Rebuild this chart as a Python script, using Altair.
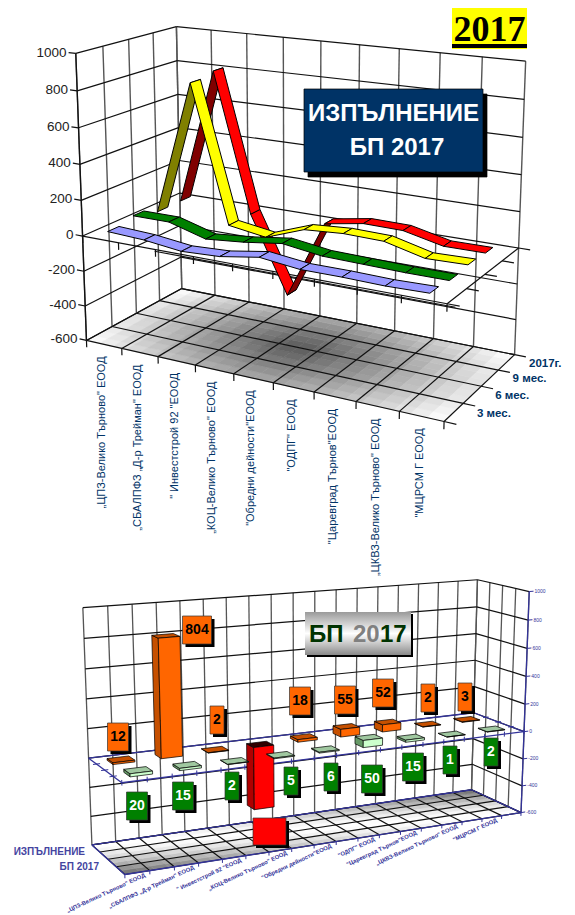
import numpy as np
import pandas as pd
import altair as alt

alt.data_transformers.disable_max_rows()

# ---------------- data ----------------
CATEGORIES = ['„ЦПЗ-Велико Търново" ЕООД', '„СБАЛПФЗ „Д-р Трейман" ЕООД', '" Инвестстрой 92 "ЕООД',
              '„КОЦ-Велико Търново" ЕООД', '"Обредни дейности"ЕООД', '"ОДПГ" ЕООД',
              '"Царевград Търнов"ЕООД', '„ЦКВЗ-Велико Търново" ЕООД', '"МЦРСМ Г ЕООД']
PERIODS = ['3 мес.', '6 мес.', '9 мес.', '2017г.']
Q3M = [25, 15, -10, 0, 35, 10, 10, 5, 10]
Q6M = [50, 50, -10, 10, 40, 10, 5, 0, 0]
Q9M = [10, 780, 2, -30, 50, 65, 60, 5, 10]
Q12M = [12, 804, 2, -440, 18, 55, 52, 2, 3]
BP_EXEC = Q12M
BP_PLAN = [20, 15, 2, 5, 6, 50, 15, 1, 2]
TOP_TICKS = [1000, 800, 600, 400, 200, 0, -200, -400, -600]
RIBBONS = [(Q12M, '#FF0000', '#800000'), (Q9M, '#FFFF00', '#808000'),
           (Q6M, '#008000', '#004000'), (Q3M, '#9999FF', '#4D4D80')]
RIBBON_ROW = [3, 2, 1, 0]

# layout of the cards (screen centres), kept apart from the values
EXEC_CARDS = [(118, 737), (197, 630), (217, 720), None, (300, 701), (345, 700), (383, 693), (428, 698), (465, 697)]
PLAN_CARDS = [(137, 806), (183, 796), (232, 786), (291, 781), (331, 777), (372, 779), (413, 767), (450, 760), (491, 752)]

W, H = 559, 905
NAVY = '#003366'
BLUE = '#333399'


def camera(pairs):
    A = []
    for (u, w, v), (px, py) in pairs:
        X = [u, w, v / 1000.0, 1.0]
        A.append(X + [0, 0, 0, 0] + [-px * c for c in X])
        A.append([0, 0, 0, 0] + X + [-py * c for c in X])
    return np.linalg.svd(np.array(A, float))[2][-1].reshape(3, 4)


P1 = camera([((0, 0, -600), (86, 341)), ((0, 0, 0), (83, 236)), ((0, 0, 1000), (76, 53)),
             ((1, 0, -600), (444, 421)), ((1, 0, 0), (447, 304)),
             ((1, 1, -600), (515, 355)), ((1, 1, 0), (518, 248)), ((1, 1, 1000), (526, 61)),
             ((0, 1, -600), (182, 288)), ((0, 1, 1000), (176, 27))])
P2 = camera([((0, 0, -600), (125, 875)), ((0, 0, 0), (122, 782)),
             ((1, 0, -600), (521, 813)), ((1, 0, 0), (523, 732)), ((1, 0, 1000), (530, 591)),
             ((1, 1, -600), (472, 789)), ((1, 1, 0), (474, 713)), ((1, 1, 1000), (477, 580)),
             ((0, 1, -600), (92, 845)), ((0, 1, 0), (88, 758)), ((0, 1, 1000), (83, 608))])


def pr(P, u, w, v):
    q = P @ np.array([u, w, v / 1000.0, 1.0])
    return float(q[0] / q[2]), float(q[1] / q[2])


rows, texts = [], []
pid = [0]


def poly(pts, fill='none', stroke='#000000', sw=1.0, close=False):
    pts = list(pts)
    if close:
        pts = pts + [pts[0]]
    pid[0] += 1
    for i, (x, y) in enumerate(pts):
        rows.append(dict(pid=pid[0], i=i, x=x, y=y, fill=fill, stroke=stroke, sw=sw))


def seg(P, a, b, stroke='#111111', sw=1.2):
    poly([pr(P, *a), pr(P, *b)], stroke=stroke, sw=sw)


def box(x0, y0, x1, y1, fill, stroke='#000000', sw=0.7):
    poly([(x0, y0), (x1, y0), (x1, y1), (x0, y1)], fill=fill, stroke=stroke, sw=sw, close=True)


def text(t, x, y, size, color='#000000', font='Liberation Sans', weight='normal',
         align='center', baseline='middle', angle=0):
    texts.append(dict(t=t, x=x, y=y, size=size, color=color, font=font, weight=weight,
                      align=align, baseline=baseline, angle=angle))


def hexgrey(g):
    c = int(round(max(0, min(1, g)) * 255))
    return f'#{c:02x}{c:02x}{c:02x}'


# ---------------- title ----------------
box(452, 4, 527, 49, '#FFFF00', stroke='#FFFF00', sw=0)
box(452, 44, 527, 48, '#000000', stroke='#000000', sw=0)
text('2017', 489.5, 41, 36, font='Liberation Serif', weight='bold', baseline='alphabetic')

# ---------------- top chart ----------------
NU, NW = 24, 12
for a in range(NU):
    for b in range(NW):
        u0, u1, w0, w1 = a / NU, (a + 1) / NU, b / NW, (b + 1) / NW
        uc, wc = (u0 + u1) / 2, (w0 + w1) / 2
        t = min(1.0, np.hypot((uc - .5) / .56, (wc - .5) / .95))
        col = hexgrey(.36 + .63 * t ** 1.15)
        poly([pr(P1, u0, w0, -600), pr(P1, u1, w0, -600), pr(P1, u1, w1, -600), pr(P1, u0, w1, -600)],
             fill=col, stroke=col, sw=.6, close=True)
for k in range(10):
    seg(P1, (k / 9, 0, -600), (k / 9, 1, -600))
    seg(P1, (k / 9, 1, -600), (k / 9, 1, 1000), stroke='#555555', sw=1.4)
    seg(P1, (k / 9, 0, -600), (k / 9, 0, -640))
    seg(P1, (k / 9, 0, 0), (k / 9, 0, -40))
for k in range(5):
    seg(P1, (0, k / 4, -600), (1, k / 4, -600))
    seg(P1, (0, k / 4, -600), (0, k / 4, 1000), stroke='#555555', sw=1.4)
    seg(P1, (1, k / 4, -600), (1.03, k / 4, -600))
    seg(P1, (1, k / 4, 0), (1.03, k / 4, 0))
seg(P1, (0, 0, 1000), (0, 0, -600), sw=1.3)
for v in TOP_TICKS:
    seg(P1, (-.022, 0, v), (0, 0, v))
    seg(P1, (0, 0, v), (0, 1, v))
    seg(P1, (0, 1, v), (1, 1, v))
    x, y = pr(P1, -.022, 0, v)
    text(str(v), x - 2, y, 13.5, color='#222222', align='right')
seg(P1, (0, 0, 0), (1, 0, 0))
seg(P1, (.22, 0, -10), (1.02, 0, -10))
seg(P1, (1, 0, 0), (1, 1, 0))

D = .055
for (vals, col, dark), row in zip(RIBBONS, RIBBON_ROW):
    w = (row + .5) / 4
    for i in range(8):
        a = pr(P1, (i + .5) / 9, w - D, vals[i])
        b = pr(P1, (i + 1.5) / 9, w - D, vals[i + 1])
        c = pr(P1, (i + 1.5) / 9, w + D, vals[i + 1])
        d = pr(P1, (i + .5) / 9, w + D, vals[i])
        cross = (b[0] - a[0]) * (d[1] - a[1]) - (b[1] - a[1]) * (d[0] - a[0])
        poly([a, b, c, d], fill=dark if cross > 0 else col, sw=1.0, close=True)

for i, name in enumerate(CATEGORIES):
    x, y = pr(P1, (i + .5) / 9, 0, -600)
    text(name, x - 2, y + 12, 11, color=NAVY, align='right', angle=270)
for k, name in enumerate(PERIODS):
    x, y = pr(P1, 1.03, (k + .5) / 4, -600)
    text(name, x + 11, y - 1, 11.5, color=NAVY, weight='bold', align='left')

box(308, 94, 487, 177, '#000000')
box(304, 89, 483, 172, NAVY)
text('ИЗПЪЛНЕНИЕ', 393.5, 114, 24, color='#FFFFFF', weight='bold')
text('БП 2017', 397, 148, 24, color='#FFFFFF', weight='bold')

# ---------------- bottom chart ----------------
NU, NW = 30, 8
for a in range(NU):
    for b in range(NW):
        u0, u1, w0, w1 = a / NU, (a + 1) / NU, b / NW, (b + 1) / NW
        t = abs((u0 + u1) / 2 + (w0 + w1) / 2 - 1)
        col = hexgrey(1 - .6 * t ** 1.6)
        poly([pr(P2, u0, w0, -600), pr(P2, u1, w0, -600), pr(P2, u1, w1, -600), pr(P2, u0, w1, -600)],
             fill=col, stroke=col, sw=.6, close=True)
for k in range(19):
    seg(P2, (k / 18, 0, -600), (k / 18, 1, -600))
    seg(P2, (k / 18, 1, -600), (k / 18, 1, 1000), stroke='#555555', sw=1.3)
for k in range(5):
    seg(P2, (0, k / 4, -600), (1, k / 4, -600))
    seg(P2, (1, k / 4, -600), (1, k / 4, 1000), stroke='#555555', sw=1.3)
for v in TOP_TICKS:
    seg(P2, (0, 1, v), (1, 1, v))
    seg(P2, (1, 1, v), (1, 0, v))
    seg(P2, (1, 0, v), (1.012, 0, v), stroke=BLUE, sw=1)
    x, y = pr(P2, 1.012, 0, v)
    text(str(v), x + 1, y, 5, color=BLUE, align='left')
for v in (-600, 0):
    for a, b in [((0, 0, v), (1, 0, v)), ((1, 0, v), (1, 1, v)), ((1, 1, v), (0, 1, v)), ((0, 1, v), (0, 0, v))]:
        seg(P2, a, b, stroke=BLUE, sw=1.3)
seg(P2, (1, 0, -600), (1, 0, 1000), stroke=BLUE, sw=1.3)
for k in range(19):
    seg(P2, (k / 18, 0, 18), (k / 18, 0, -18), stroke=BLUE, sw=1)
    seg(P2, (k / 18, 0, -600), (k / 18, 0, -625), stroke=BLUE, sw=1)
for k in range(1, 4):
    seg(P2, (-.008, k / 4, 0), (.008, k / 4, 0), stroke=BLUE, sw=1)
    seg(P2, (.992, k / 4, 0), (1.008, k / 4, 0), stroke=BLUE, sw=1)


def bar(u, w, v, front, top, side):
    du, dw = .025, .09
    low, high = min(0, v), max(0, v)
    c = lambda a, b, z: pr(P2, u + a * du, w + b * dw, z)
    poly([c(-1, -1, low), c(-1, 1, low), c(-1, 1, high), c(-1, -1, high)], fill=side, sw=.7, close=True)
    poly([c(-1, -1, high), c(1, -1, high), c(1, 1, high), c(-1, 1, high)], fill=top, sw=.7, close=True)
    poly([c(-1, -1, low), c(1, -1, low), c(1, -1, high), c(-1, -1, high)], fill=front, sw=.7, close=True)


for i, v in enumerate(BP_EXEC):
    if v < 0:
        bar((i + .5) / 9, .75, v, '#FF0000', '#300000', '#B00000')
    else:
        bar((i + .5) / 9, .75, v, '#FF6600', '#C65000', '#C65000')
for i, v in enumerate(BP_PLAN):
    bar((i + .5) / 9, .25, v, '#CCFFCC', '#A0C8A0', '#669966')


def card(t, cx, cy, fill, color):
    hw = {1: 7, 2: 10.5, 3: 14.5}[len(str(t))]
    box(cx - hw + 3, cy - 14 + 3, cx + hw + 3, cy + 14 + 3, '#000000', sw=0)
    box(cx - hw, cy - 14, cx + hw, cy + 14, fill, stroke='#333333', sw=.7)
    text(str(t), cx, cy, 14, color=color, weight='bold')


for v, pos in zip(BP_EXEC, EXEC_CARDS):
    if pos:
        card(v, pos[0], pos[1], '#FF6600', '#000000')
for v, pos in zip(BP_PLAN, PLAN_CARDS):
    card(v, pos[0], pos[1], '#008000', '#FFFFFF')
box(256, 821, 289, 848, '#000000', sw=0)
box(253, 818, 286, 845, '#FF0000', stroke='#333333')

box(307, 614, 413, 657, '#000000', sw=0)
for i, name in enumerate(CATEGORIES):
    x, y = pr(P2, (i + .5) / 9, 0, -600)
    text(name, x - 5, y + 4, 5.8, color=BLUE, weight='bold', align='right', angle=335)
text('ИЗПЪЛНЕНИЕ', 85, 852, 10, color='#44449F', weight='bold', align='right')
text('БП 2017', 99, 867, 10, color='#44449F', weight='bold', align='right')
text('БП', 309, 642, 24, color='#003300', weight='bold', align='left', baseline='alphabetic')
text('20', 353, 642, 24, color='#808080', weight='bold', align='left', baseline='alphabetic')
text('17', 380, 642, 24, color='#003300', weight='bold', align='left', baseline='alphabetic')

# ---------------- assemble ----------------
xs = alt.X('x:Q', axis=None, scale=alt.Scale(domain=[8, 8 + W], range=[0, W], nice=False, zero=False))
ys = alt.Y('y:Q', axis=None, scale=alt.Scale(domain=[8, 8 + H], range=[0, H], nice=False, zero=False))

polys = alt.Chart(pd.DataFrame(rows)).mark_line(strokeJoin='miter', strokeCap='butt').encode(
    x=xs, y=ys,
    detail='pid:O',
    order='i:Q',
    fill=alt.Fill('fill:N', scale=None),
    stroke=alt.Stroke('stroke:N', scale=None),
    strokeWidth=alt.StrokeWidth('sw:Q', scale=None),
)

grad = alt.Chart(pd.DataFrame([dict(x=305, x2=411, y=612, y2=655)])).mark_rect(
    fill=alt.LinearGradient(gradient='linear', x1=0, y1=0, x2=0, y2=1, stops=[
        alt.GradientStop(color='#9A9A9A', offset=0), alt.GradientStop(color='#FFFFFF', offset=.5),
        alt.GradientStop(color='#8A8A8A', offset=1)])
).encode(x=xs, x2='x2:Q', y=ys, y2='y2:Q')

layers = [polys, grad]
tdf = pd.DataFrame(texts)
keys = ['size', 'color', 'font', 'weight', 'align', 'baseline', 'angle']
for key, g in tdf.groupby(keys, sort=False):
    st = dict(zip(keys, key))
    layers.append(alt.Chart(g[['t', 'x', 'y']]).mark_text(
        fontSize=float(st['size']), color=st['color'], font=st['font'], fontWeight=st['weight'],
        align=st['align'], baseline=st['baseline'], angle=float(st['angle'])
    ).encode(x=xs, y=ys, text='t:N'))

chart = alt.layer(*layers).properties(
    width=W, height=H, padding=0, autosize=alt.AutoSizeParams(type='none'), background='#FFFFFF'
).configure_view(stroke=None)

chart.save("out.html", embed_options={"renderer": "svg", "actions": False})
